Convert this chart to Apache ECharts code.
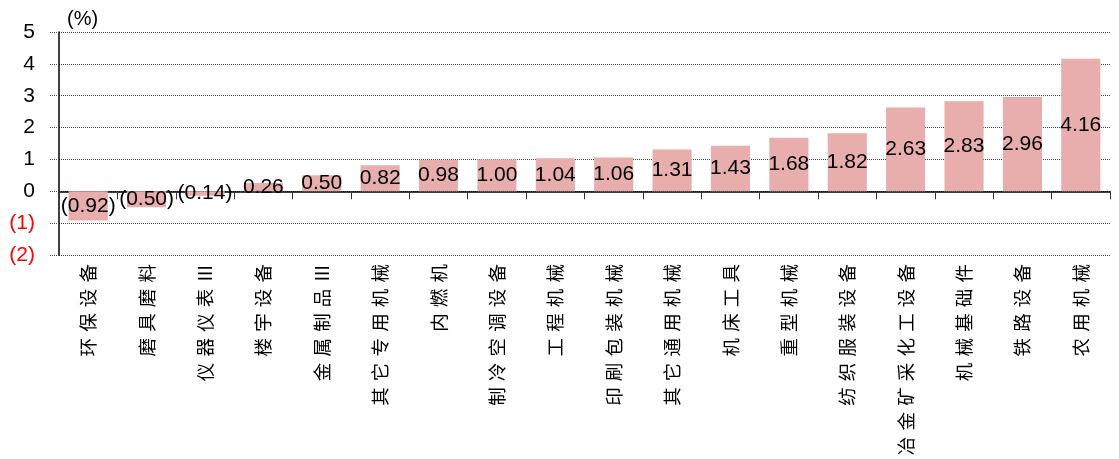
<!DOCTYPE html>
<html>
<head>
<meta charset="utf-8">
<script src="https://cdn.jsdelivr.net/npm/echarts@6/dist/echarts.min.js"></script>
<style>
  html, body { margin: 0; padding: 0; background: #fff; }
  #chart { width: 1119px; height: 459px; }
</style>
</head>
<body>
<div id="chart"></div>
<script>
// 行业名称
const categories = [
  "环保设备", "磨具磨料", "仪器仪表Ⅲ", "楼宇设备", "金属制品Ⅲ", "其它专用机械",
  "内燃机", "制冷空调设备", "工程机械", "印刷包装机械", "其它通用机械", "机床工具",
  "重型机械", "纺织服装设备", "冶金矿采化工设备", "机械基础件", "铁路设备", "农用机械"
];
// 涨跌幅 (%)
const values = [
  -0.92, -0.5, -0.14, 0.26, 0.5, 0.82, 0.98, 1.0, 1.04, 1.06,
  1.31, 1.43, 1.68, 1.82, 2.63, 2.83, 2.96, 4.16
];
const yMin = -2;
const yMax = 5;

const fmtNum = function (v) {
  return v < 0 ? "(" + Math.abs(v).toFixed(2) + ")" : v.toFixed(2);
};

const chart = echarts.init(document.getElementById("chart"));
chart.setOption({
  animation: false,
  grid: { left: 59, right: 9, top: 32, bottom: 204, outerBoundsMode: "none" },
  xAxis: {
    type: "category",
    data: categories,
    axisLine: { onZero: true, lineStyle: { color: "#000", width: 1.5 } },
    axisTick: { show: true, length: 8, lineStyle: { color: "#333" } },
    axisLabel: {
      rotate: 90,
      margin: 9,
      interval: 0,
      color: "#000",
      fontSize: 18.5,
      fontFamily: "Noto Sans CJK SC",
      // 字间加空格，模拟原图的字距
      formatter: function (s) {
        return s.split("").join("\u2004");
      },
    },
  },
  yAxis: {
    type: "value",
    min: yMin,
    max: yMax,
    interval: 1,
    name: "(%)",
    nameLocation: "end",
    nameGap: 3,
    nameTextStyle: {
      color: "#000",
      fontSize: 20,
      fontFamily: "Liberation Sans",
      align: "left",
      padding: [0, 0, 0, 8],
    },
    axisLine: { show: true, lineStyle: { color: "#000", width: 1.5 } },
    axisTick: { show: true, length: 9, lineStyle: { color: "#555", type: "dotted" } },
    axisLabel: {
      margin: 24,
      fontSize: 21,
      fontFamily: "Liberation Sans",
      color: function (v) {
        return Number(v) < 0 ? "#FF0000" : "#000";
      },
      formatter: function (v) {
        return v < 0 ? "(" + Math.abs(v) + ")" : String(v);
      },
    },
    splitLine: { show: true, lineStyle: { color: "#444", type: "dotted", width: 1 } },
  },
  series: [
    {
      type: "bar",
      data: values,
      barWidth: "67%",
      itemStyle: { color: "#E8ADAD" },
      label: {
        show: true,
        position: "inside",
        color: "#000",
        fontSize: 21,
        fontFamily: "Liberation Sans",
        formatter: function (p) {
          return fmtNum(p.value);
        },
      },
    },
  ],
});
</script>
</body>
</html>
